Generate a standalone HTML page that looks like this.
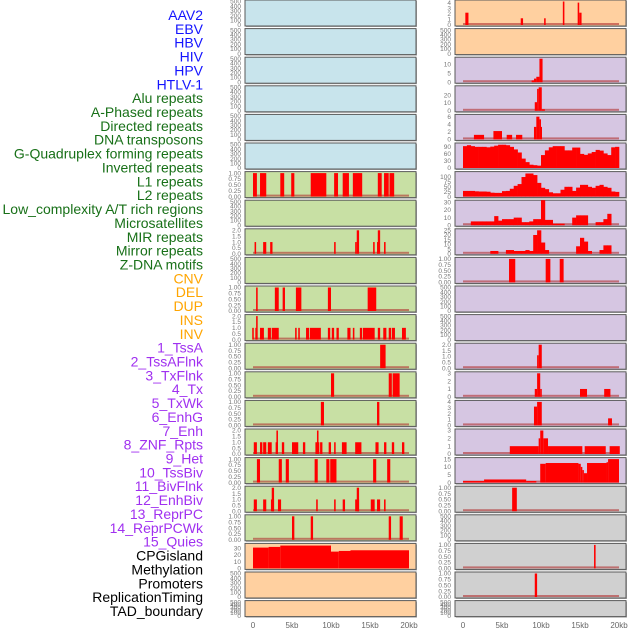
<!DOCTYPE html>
<html><head><meta charset="utf-8"><style>
html,body{margin:0;padding:0;background:#fff;width:630px;height:630px;overflow:hidden}
svg{display:block;font-family:"Liberation Sans",sans-serif}
</style></head><body>
<svg id="chart" width="630" height="630"></svg>
<script>
// ---------- data ----------
const trackLabels = ["AAV2","EBV","HBV","HIV","HPV","HTLV-1","Alu repeats","A-Phased repeats","Directed repeats","DNA transposons","G-Quadruplex forming repeats","Inverted repeats","L1 repeats","L2 repeats","Low_complexity A/T rich regions","Microsatellites","MIR repeats","Mirror repeats","Z-DNA motifs","CNV","DEL","DUP","INS","INV","1_TssA","2_TssAFlnk","3_TxFlnk","4_Tx","5_TxWk","6_EnhG","7_Enh","8_ZNF_Rpts","9_Het","10_TssBiv","11_BivFlnk","12_EnhBiv","13_ReprPC","14_ReprPCWk","15_Quies","CPGisland","Methylation","Promoters","ReplicationTiming","TAD_boundary"];
const labelGroups = ["b","b","b","b","b","b","g","g","g","g","g","g","g","g","g","g","g","g","g","o","o","o","o","o","p","p","p","p","p","p","p","p","p","p","p","p","p","p","p","k","k","k","k","k"];
const xTickLabels = ["0","5kb","10kb","15kb","20kb"];
const xTickValues = [0,5,10,15,20];

// left column segments [startKb, endKb, value]
const left6 = [[0,0.5,1],[0.9,1.7,1],[3.5,4.0,1],[4.9,5.3,1],[7.4,9.4,1],[10.4,10.9,1],[11.5,12.3,1],[12.8,14.0,1],[16.0,16.5,1],[16.8,17.4,1],[17.5,18.1,1]];
const left8 = [[0.2,0.4,1],[1.3,1.7,1],[2.2,2.5,1],[10.4,10.6,1],[13.1,13.3,1],[13.3,13.6,2],[15.4,15.6,1],[15.9,16.0,1],[16.0,16.3,2],[16.8,17.0,1]];
const left10 = [[0.4,0.6,1],[2.8,3.3,1],[3.8,4.1,1],[5.5,6.2,1],[9.6,10.0,1],[14.7,15.8,1]];
const left11 = [[-0.1,0.1,1],[0.3,0.4,1],[0.4,0.6,2],[0.9,1.4,1],[1.9,2.3,1],[2.4,3.3,1],[5.4,5.6,1],[5.8,6.0,1],[6.8,7.2,1],[7.3,8.7,1],[9.6,9.9,1],[10.1,10.4,1],[10.7,11.0,1],[12.1,12.5,1],[12.8,13.0,1],[13.7,14.0,1],[14.1,15.6,1],[16.0,16.3,1],[16.7,17.1,1],[17.4,17.7,1],[17.8,18.2,1],[19.1,19.6,1]];
const left12 = [[16.3,17.0,1]];
const left13 = [[10.0,10.4,1],[17.4,17.8,1],[17.9,18.8,1]];
const left14 = [[8.7,9.1,1],[15.9,16.2,1]];
const left15 = [[0.1,0.5,1],[0.9,1.2,1],[1.3,1.7,1],[1.9,2.4,1],[2.9,3.2,1],[3.0,3.2,2],[3.7,4.0,1],[5.0,5.8,1],[6.4,6.7,1],[8.0,8.5,1],[8.2,8.4,2],[8.6,8.9,1],[9.7,10.0,1],[10.4,10.6,1],[11.4,12.0,1],[13.1,13.9,1],[15.7,16.1,1],[16.8,17.1,1],[17.8,18.1,1],[19.1,19.4,1]];
const left16 = [[0.5,0.9,1],[3.3,3.7,1],[4.2,4.6,1],[7.9,8.3,1],[9.4,9.8,1],[9.9,10.7,1],[15.4,15.8,1],[17.2,17.6,1]];
const left17 = [[0.1,0.5,1],[1.3,1.7,1],[2.3,2.7,1],[2.4,2.7,2],[3.2,3.6,1],[8.1,8.3,1],[10.4,10.6,1],[11.5,11.8,1],[13.1,13.6,1],[13.3,13.6,2],[15.1,15.6,1],[15.9,16.3,1],[16.8,17.0,1]];
const left18 = [[5.0,5.3,1],[7.4,7.7,1],[17.4,17.7,1],[18.8,19.2,1]];
const left19 = [[0,2,31],[2,3.5,32],[3.5,10,34],[10,11,25],[11,12.5,26],[12.5,20,27]];

// right column
const right0 = [[0.3,0.7,2.2],[7.4,7.7,1.2],[10.4,10.6,1.2],[12.8,13.0,4.2],[14.7,14.9,4.0],[14.9,15.2,2.2]];
const right2 = [[8.8,9.1,1],[9.1,9.4,2],[9.4,9.8,3],[9.8,10.2,13]];
const right3 = [[9.2,9.5,11],[9.5,9.7,28],[9.7,10.1,30],[10.1,10.5,2]];
const right4 = [[1.4,2.7,1.2],[3.9,5.0,2.2],[5.6,6.3,1.2],[6.8,7.6,1.2],[9.1,9.4,3.3],[9.4,9.8,6],[9.8,10.0,5.3],[10.0,10.1,3.3]];
const right5 = [93,97,93,90,90,90,88,91,95,99,99,97,90,79,66,40,25,14,12,10,55,75,88,93,93,93,75,75,87,87,60,56,62,68,77,74,62,55,88,90];
const right6 = [29,29,29,27,26,26,25,20,19,19,28,29,40,55,64,100,118,118,110,70,45,38,22,17,17,35,50,50,29,46,60,60,50,45,55,60,50,45,26,24];
const right7 = [0,0,5,5,5,5,5,5,12,6,8,8,8,10,10,4,4,5,8,8,33,7,7,2,2,2,0,0,10,13,13,13,0,0,4,4,8,15,0,0];
const right8 = [0,0,0,0,0,0,0,3,3,0,0,4,4,3,3,3,4,3,20,25,12,4,0,0,0,0,0,0,0,8,17,13,3,0,0,4,9,9,0,0];
const right9 = [[5.9,6.7,1],[10.6,11.2,1],[12.4,12.9,1]];
const right12 = [[9.5,9.7,1.1],[9.7,10.1,2]];
const right13 = [[9.2,9.5,1],[9.5,9.9,3],[9.9,10.1,1],[15.0,15.9,1],[18.1,18.9,1]];
const right14 = [[9.1,9.5,3.2],[9.5,10.1,4],[18.6,19.1,1.2]];
const right15 = [[6.0,9.7,1],[9.7,9.9,2],[9.9,10.3,3],[10.3,10.9,2],[10.9,15.3,1],[15.6,18.3,1],[18.8,20.1,1]];
const right16 = [[0,2.7,1],[2.7,8.1,2],[8.1,9.4,1],[9.9,10.6,12],[10.6,14.8,12.5],[14.8,15.1,12],[15.1,15.3,10],[15.3,15.5,8],[15.5,15.9,6],[15.9,18.4,12.5],[18.4,18.6,13],[18.6,20,15]];
const right17 = [[6.3,6.9,1]];
const right19 = [[16.8,17.0,1]];
const right20 = [[9.2,9.5,1]];

// ---------- layout ----------
const NS="http://www.w3.org/2000/svg";
const svg=document.getElementById('chart');
function el(tag,attrs,parent){const e=document.createElementNS(NS,tag);for(const k in attrs)e.setAttribute(k,attrs[k]);(parent||svg).appendChild(e);return e;}
const colors={b:"#1414ff",g:"#187018",o:"#ffa500",p:"#a030f0",k:"#000"};
const bgs={blue:"#c8e4ec",green:"#c8e0a4",orange:"#ffd0a0",purple:"#d6c6e2",gray:"#d0d0d0"};

trackLabels.forEach((t,i)=>{
  const tx=el('text',{x:203,y:15+i*13.86+5,'text-anchor':'end','font-size':14,fill:colors[labelGroups[i]]});
  tx.textContent=t;
  
  
});

const T01=[[0,"0.00"],[0.25,"0.25"],[0.5,"0.50"],[0.75,"0.75"],[1,"1.00"]];
const T02=[[0,"0.0"],[0.5,"0.5"],[1,"1.0"],[1.5,"1.5"],[2,"2.0"]];
const T500=[[0,"0"],[100,"100"],[200,"200"],[300,"300"],[400,"400"],[500,"500"]];
function tk(a){return a.map(v=>[v,String(v)]);}

const leftPanels=[];
for(let i=0;i<6;i++)leftPanels.push({bg:'blue',ticks:T500,max:500});
const lg=(d,t,m)=>({bg:'green',ticks:t,max:m,seg:d});
leftPanels.push(lg(left6,T01,1),lg(null,T500,500),lg(left8,T02,2),lg(null,T500,500),lg(left10,T01,1),lg(left11,T02,2),lg(left12,T01,1),lg(left13,T01,1),lg(left14,T01,1),lg(left15,T02,2),lg(left16,T01,1),lg(left17,T02,2),lg(left18,T01,1));
leftPanels.push({bg:'orange',ticks:tk([0,10,20,30]),max:35,seg:left19,nobase:true});
leftPanels.push({bg:'orange',ticks:T500,max:500},{bg:'orange',ticks:T500,max:500});

const rp=(bg,d,t,m,bins)=>({bg:bg,ticks:t,max:m,seg:bins?null:d,bins:bins?d:null});
const rightPanels=[
  rp('orange',right0,tk([0,1,2,3,4]),4.2),
  {bg:'orange',ticks:T500,max:500},
  rp('purple',right2,tk([0,5,10]),13),
  rp('purple',right3,tk([0,10,20]),30),
  rp('purple',right4,tk([0,2,4,6]),6.2),
  rp('purple',right5,tk([0,30,60,90]),100,true),
  rp('purple',right6,tk([0,25,50,75,100]),120,true),
  rp('purple',right7,tk([0,10,20,30]),31,true),
  rp('purple',right8,tk([0,5,10,15,20,25]),25,true),
  rp('purple',right9,T01,1),
  {bg:'purple',ticks:T500,max:500},
  {bg:'purple',ticks:T500,max:500},
  rp('purple',right12,T02,2),
  rp('purple',right13,tk([0,1,2,3]),3),
  rp('purple',right14,tk([0,1,2,3,4]),4),
  rp('purple',right15,tk([0,1,2,3]),3),
  rp('purple',right16,tk([0,5,10,15]),15),
  rp('gray',right17,T01,1),
  {bg:'gray',ticks:T500,max:500},
  rp('gray',right19,T01,1),
  rp('gray',right20,T01,1),
  {bg:'gray',ticks:T500,max:500}
];

function drawPanel(p,row,px,side){
  const top=row*28.6, h=(row===21?16:26), w=171;
  const g=el('g',{});
  
  
  el('rect',{x:px+1,y:top+1,width:w,height:h,fill:'#aaa'},g);
  el('rect',{x:px,y:top,width:w,height:h,fill:bgs[p.bg],stroke:'#5a5a5a','stroke-width':1},g);
  const x0=px+8, kx=7.8;
  const xs=kb=>x0+kb*kx;
  const yb=top+h-1, yt=top+1.5;
  const ys=v=>yb-(v/p.max)*(yb-yt);
  // ticks
  p.ticks.forEach(t=>{
    const tt=el('text',{x:px-4,y:ys(t[0])+2.2,'text-anchor':'end','font-size':6.5,fill:'#777'},g);
    tt.textContent=t[1];
    
    
  });
  if(!p.seg&&!p.bins) return;
  if(!p.nobase) el('rect',{x:xs(0),y:yb-2,width:xs(20)-xs(0),height:2,fill:'#b03030',opacity:0.6},g);
  if(p.seg){
    p.seg.forEach(s=>{
      const r=el('rect',{x:xs(s[0]),y:ys(s[2]),width:Math.max(1,xs(s[1])-xs(s[0])),height:yb-ys(s[2]),fill:'#ff0000'},g);
      
      
    });
  } else {
    p.bins.forEach((v,i)=>{
      if(v<=0) return;
      const r=el('rect',{x:xs(i*0.5),y:ys(v),width:xs((i+1)*0.5)-xs(i*0.5)+0.3,height:yb-ys(v),fill:'#ff0000'},g);
      
      
    });
  }
}
leftPanels.forEach((p,i)=>drawPanel(p,i,245,'left'));
rightPanels.forEach((p,i)=>drawPanel(p,i,455,'right'));

[245,455].forEach((px,c)=>{
  xTickValues.forEach((v,i)=>{
    const t=el('text',{x:px+8+v*7.8,y:628,'text-anchor':'middle','font-size':8,fill:'#666'});
    t.textContent=xTickLabels[i];
    
    
  });
});
</script>
</body></html>
